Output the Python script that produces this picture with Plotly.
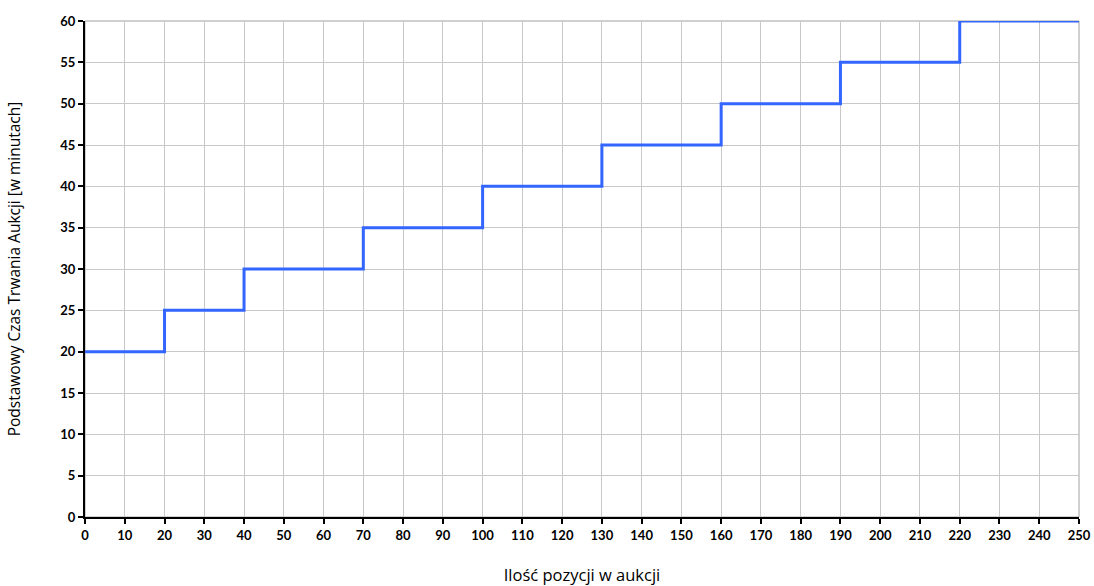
import plotly.graph_objects as go

x_items = [0, 20, 40, 70, 100, 130, 160, 190, 220, 250]
y_minutes = [20, 25, 30, 35, 40, 45, 50, 55, 60, 60]
x_title = "Ilość pozycji w aukcji"
y_title = "Podstawowy Czas Trwania Aukcji [w minutach]"

fig = go.Figure()
fig.add_trace(go.Scatter(
    x=x_items, y=y_minutes, mode="lines", line_shape="hv",
    line=dict(color="#3366FF", width=3), showlegend=False, cliponaxis=False,
))

fig.update_layout(
    width=1094, height=586,
    margin=dict(l=85, r=15, t=21, b=69, autoexpand=False),
    paper_bgcolor="white", plot_bgcolor="white",
    font=dict(family="Lato, Carlito, sans-serif", color="black"),
)
fig.update_xaxes(
    range=[0, 250], tick0=0, dtick=10, tickmode="linear", automargin=False,
    showgrid=True, gridcolor="#C8C8C8", gridwidth=1,
    showline=True, linecolor="black", linewidth=2, mirror=False,
    ticks="outside", ticklen=5, tickwidth=2, tickcolor="black",
    tickfont=dict(size=13, family="Lato, sans-serif", weight="bold"),
    title=dict(text=x_title, font=dict(size=16.5, family="Open Sans, sans-serif"), standoff=33),
    zeroline=False,
)
fig.update_yaxes(
    range=[0, 60], tick0=0, dtick=5, tickmode="linear", automargin=False,
    showgrid=True, gridcolor="#C8C8C8", gridwidth=1,
    showline=True, linecolor="black", linewidth=2,
    ticks="outside", ticklen=5, tickwidth=2, tickcolor="black",
    tickfont=dict(size=13, family="Lato, sans-serif", weight="bold"),
    title=dict(text=y_title, font=dict(size=15.5, family="Open Sans, sans-serif"), standoff=36),
    zeroline=False,
)
# gray top/right border
fig.add_shape(type="rect", xref="paper", yref="paper", x0=0, y0=0, x1=1, y1=1,
              line=dict(color="#A0A0A0", width=1), layer="below")

fig.write_html("out.html", config={"displayModeBar": False},
               post_script="document.body.style.margin='0';document.body.style.overflow='hidden';")
